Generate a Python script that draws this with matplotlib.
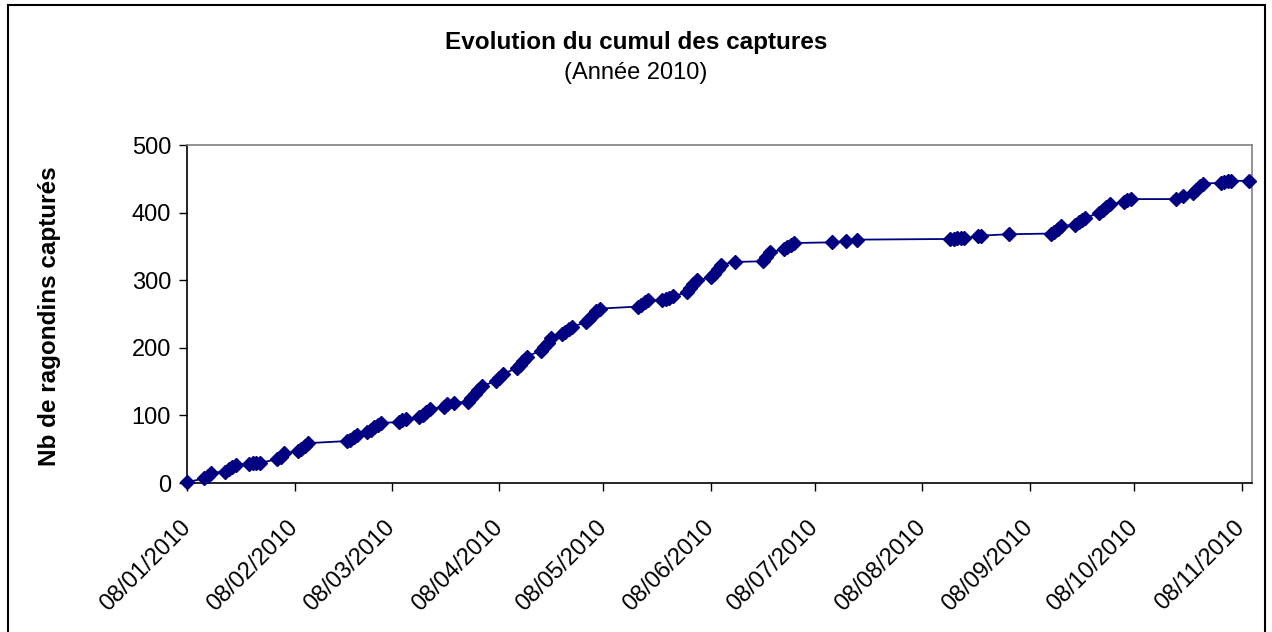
import matplotlib
matplotlib.use("Agg")
import matplotlib.pyplot as plt
import matplotlib.dates as mdates
from matplotlib.patches import Rectangle
import datetime as dt

plt.rcParams['font.family'] = ['Liberation Sans', 'DejaVu Sans']

title = "Evolution du cumul des captures"
subtitle = "(Année 2010)"
ylabel = "Nb de ragondins capturés"

dates = [
    "2010-01-08", "2010-01-13", "2010-01-14", "2010-01-15", "2010-01-19", "2010-01-20",
    "2010-01-21", "2010-01-22", "2010-01-26", "2010-01-27", "2010-01-28", "2010-01-29",
    "2010-02-03", "2010-02-04", "2010-02-05", "2010-02-09", "2010-02-10", "2010-02-11",
    "2010-02-12", "2010-02-23", "2010-02-24", "2010-02-25", "2010-02-26", "2010-03-01",
    "2010-03-02", "2010-03-03", "2010-03-04", "2010-03-05", "2010-03-10", "2010-03-11",
    "2010-03-12", "2010-03-16", "2010-03-17", "2010-03-18", "2010-03-19", "2010-03-23",
    "2010-03-24", "2010-03-26", "2010-03-30", "2010-03-31", "2010-04-01", "2010-04-02",
    "2010-04-03", "2010-04-07", "2010-04-08", "2010-04-09", "2010-04-13", "2010-04-14",
    "2010-04-15", "2010-04-16", "2010-04-20", "2010-04-21", "2010-04-22", "2010-04-23",
    "2010-04-26", "2010-04-27", "2010-04-28", "2010-04-29", "2010-05-03", "2010-05-04",
    "2010-05-05", "2010-05-06", "2010-05-07", "2010-05-18", "2010-05-19", "2010-05-20",
    "2010-05-21", "2010-05-25", "2010-05-26", "2010-05-27", "2010-05-28", "2010-06-01",
    "2010-06-02", "2010-06-03", "2010-06-04", "2010-06-08", "2010-06-09", "2010-06-10",
    "2010-06-11", "2010-06-15", "2010-06-23", "2010-06-24", "2010-06-25", "2010-06-29",
    "2010-06-30", "2010-07-01", "2010-07-02", "2010-07-13", "2010-07-17", "2010-07-20",
    "2010-08-16", "2010-08-17", "2010-08-18", "2010-08-19", "2010-08-20", "2010-08-24",
    "2010-08-25", "2010-09-02", "2010-09-14", "2010-09-15", "2010-09-16", "2010-09-17",
    "2010-09-21", "2010-09-22", "2010-09-23", "2010-09-24", "2010-09-28", "2010-09-29",
    "2010-09-30", "2010-10-01", "2010-10-05", "2010-10-06", "2010-10-07", "2010-10-20",
    "2010-10-22", "2010-10-25", "2010-10-26", "2010-10-27", "2010-10-28", "2010-11-02",
    "2010-11-03", "2010-11-04", "2010-11-05", "2010-11-10",
]
captures = [
    1, 7, 10, 15, 17, 20,
    24, 27, 28, 29, 30, 30,
    35, 39, 44, 47, 51, 55,
    59, 62, 64, 68, 71, 75,
    79, 83, 86, 89, 90, 93,
    95, 97, 101, 105, 109, 113,
    117, 119, 120, 126, 132, 138,
    143, 151, 155, 161, 170, 175,
    181, 187, 196, 201, 207, 214,
    220, 224, 228, 231, 238, 243,
    249, 254, 258, 261, 264, 268,
    270, 270, 272, 274, 276, 282,
    288, 294, 300, 304, 309, 316,
    323, 327, 328, 334, 341, 346,
    349, 352, 355, 356, 358, 360,
    361, 361, 362, 362, 362, 365,
    366, 368, 369, 372, 376, 380,
    382, 386, 389, 392, 400, 404,
    409, 413, 415, 418, 420, 420,
    424, 429, 434, 439, 443, 444,
    446, 447, 447, 447,
]
tick_dates = ["2010-%02d-08" % m for m in range(1, 12)]
y_ticks = [0, 100, 200, 300, 400, 500]

x = [dt.datetime.strptime(d, "%Y-%m-%d") for d in dates]
xt = [dt.datetime.strptime(d, "%Y-%m-%d") for d in tick_dates]

W, H = 1272, 632
fig = plt.figure(figsize=(W / 100, H / 100), dpi=100)
fig.patch.set_facecolor("white")
ax = fig.add_axes([187 / W, 1 - 483 / H, (1252 - 187) / W, (483 - 145) / H])

ax.plot(x, captures, color="#000080", lw=1.3, marker="D", markersize=7.5,
        markerfacecolor="#000080", markeredgecolor="#000080", zorder=3, clip_on=False)

ax.set_xlim(dt.datetime(2010, 1, 8), dt.datetime(2010, 11, 11))
ax.set_ylim(0, 500)
ax.set_yticks(y_ticks)
ax.set_xticks(xt)
ax.xaxis.set_major_formatter(mdates.DateFormatter("%d/%m/%Y"))
ax.tick_params(axis="both", direction="out", length=5.5, width=1, colors="black",
               labelsize=17)
ax.tick_params(axis="x", pad=24)
ax.tick_params(axis="y", pad=6)
for lab in ax.get_xticklabels():
    lab.set_rotation(45)
    lab.set_ha("right")
    lab.set_va("center")
    lab.set_rotation_mode("anchor")

for s in ["top", "right"]:
    ax.spines[s].set_color("#808080")
    ax.spines[s].set_linewidth(1.2)
for s in ["left", "bottom"]:
    ax.spines[s].set_color("black")
    ax.spines[s].set_linewidth(1.2)

fig.text(50 / W, 1 - 316 / H, ylabel, rotation=90, ha="center", va="center",
         fontsize=17.5, fontweight="bold")

fig.text(0.5, 1 - 42 / H, title, ha="center", va="center", fontsize=17.5, fontweight="bold")
fig.text(0.5, 1 - 73 / H, subtitle, ha="center", va="center", fontsize=17)

fig.patches.append(Rectangle((8 / W, -0.05), (1265 - 8) / W, 1.05 - 5 / H,
                             transform=fig.transFigure, fill=False, edgecolor="black",
                             linewidth=1.5))

fig.savefig("out.png", dpi=100)
